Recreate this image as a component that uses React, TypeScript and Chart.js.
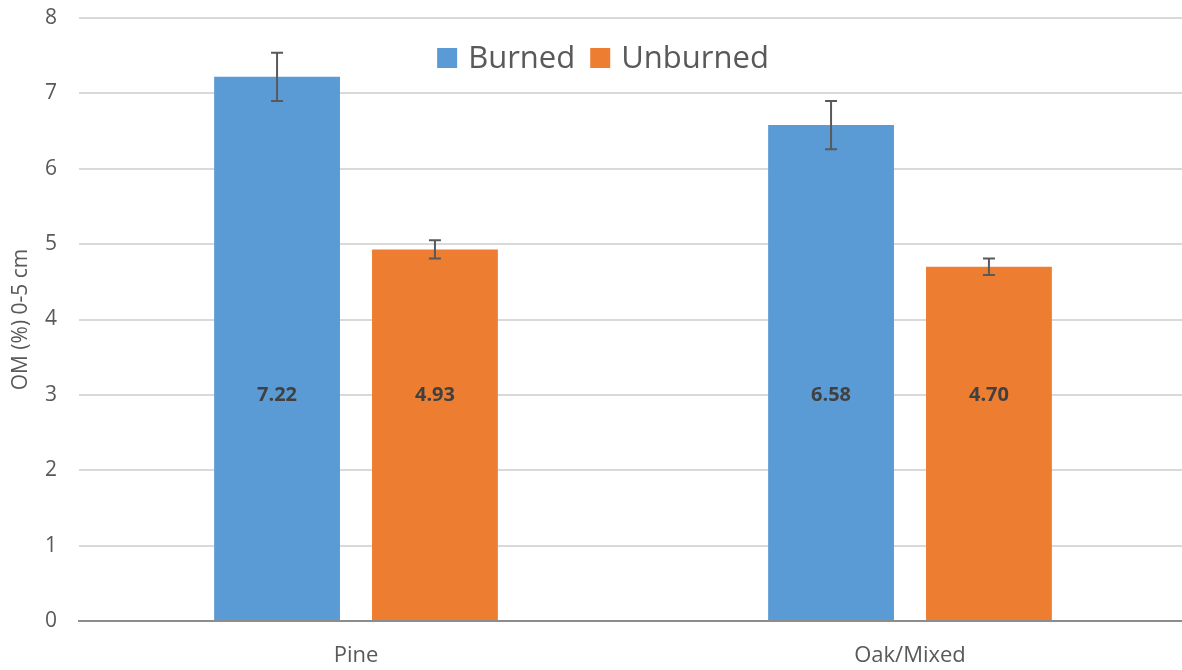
import React, { useEffect, useRef } from "react";
import { Chart, registerables } from "chart.js";

Chart.register(...registerables);

const categories = ["Pine", "Oak/Mixed"];
const seriesNames = ["Burned", "Unburned"];
const burnedValues = [7.22, 6.58];
const unburnedValues = [4.93, 4.7];
const burnedErrors = [0.32, 0.32];
const unburnedErrors = [0.12, 0.11];
const yTicks = [0, 1, 2, 3, 4, 5, 6, 7, 8];
const labelLevel = 3;

const BLUE = "#5B9BD5";
const ORANGE = "#ED7D31";
const FONT = "'Open Sans', 'Noto Sans', sans-serif";

const errorBarPlugin = {
  id: "errorBars",
  afterDatasetsDraw(chart: any) {
    const ctx = chart.ctx;
    const y = chart.scales.y;
    const errs = [burnedErrors, unburnedErrors];
    ctx.save();
    ctx.strokeStyle = "#595959";
    ctx.lineWidth = 2;
    chart.data.datasets.forEach((ds: any, di: number) => {
      const meta = chart.getDatasetMeta(di);
      meta.data.forEach((bar: any, i: number) => {
        const v = ds.data[i];
        const e = errs[di][i];
        const x = bar.x;
        const yt = y.getPixelForValue(v + e);
        const yb = y.getPixelForValue(v - e);
        ctx.beginPath();
        ctx.moveTo(x, yt);
        ctx.lineTo(x, yb);
        ctx.moveTo(x - 6, yt);
        ctx.lineTo(x + 6, yt);
        ctx.moveTo(x - 6, yb);
        ctx.lineTo(x + 6, yb);
        ctx.stroke();
      });
    });
    ctx.restore();
  },
};

const dataLabelPlugin = {
  id: "dataLabels",
  afterDatasetsDraw(chart: any) {
    const ctx = chart.ctx;
    const y = chart.scales.y;
    ctx.save();
    ctx.fillStyle = "#404040";
    ctx.font = `bold 20px ${FONT}`;
    ctx.textAlign = "center";
    ctx.textBaseline = "middle";
    chart.data.datasets.forEach((ds: any, di: number) => {
      const meta = chart.getDatasetMeta(di);
      meta.data.forEach((bar: any, i: number) => {
        ctx.fillText(ds.data[i].toFixed(2), bar.x, y.getPixelForValue(labelLevel));
      });
    });
    ctx.restore();
  },
};

const legendPlugin = {
  id: "customLegend",
  afterDraw(chart: any) {
    const ctx = chart.ctx;
    ctx.save();
    ctx.font = `31px ${FONT}`;
    ctx.textBaseline = "middle";
    const box = 20;
    const gapText = 11;
    const gapItem = 15;
    const colors = [BLUE, ORANGE];
    const widths = seriesNames.map((n) => ctx.measureText(n).width);
    const total = widths.reduce((a: number, w: number) => a + box + gapText + w, 0) + gapItem;
    let x = 603 - total / 2;
    const yc = 58;
    seriesNames.forEach((n, i) => {
      ctx.fillStyle = colors[i];
      ctx.fillRect(x, yc - box / 2, box, box);
      x += box + gapText;
      ctx.fillStyle = "#595959";
      ctx.textAlign = "left";
      ctx.fillText(n, x, yc + 1);
      x += widths[i] + gapItem;
    });
    ctx.restore();
  },
};

export default function App() {
  const ref = useRef<HTMLCanvasElement | null>(null);
  useEffect(() => {
    document.body.style.margin = "0";
    const chart = new Chart(ref.current as HTMLCanvasElement, {
      type: "bar",
      data: {
        labels: categories,
        datasets: [
          {
            label: seriesNames[0],
            data: burnedValues,
            backgroundColor: BLUE,
            barPercentage: 0.797,
            categoryPercentage: 0.57,
          },
          {
            label: seriesNames[1],
            data: unburnedValues,
            backgroundColor: ORANGE,
            barPercentage: 0.797,
            categoryPercentage: 0.57,
          },
        ],
      },
      options: {
        responsive: false,
        animation: false,
        layout: { padding: { top: 18, right: 13, left: 0, bottom: 0 } },
        plugins: {
          legend: { display: false },
          tooltip: { enabled: false },
        },
        scales: {
          x: {
            grid: { display: false, drawTicks: false },
            border: { display: true, color: "#8c8c8c", width: 2 },
            ticks: {
              color: "#595959",
              font: { family: FONT, size: 22 },
              padding: 22,
            },
            afterFit(scale: any) {
              scale.height = 49;
              scale.paddingLeft = 0;
              scale.paddingRight = 0;
            },
          },
          y: {
            min: 0,
            max: 8,
            afterBuildTicks(scale: any) {
              scale.ticks = yTicks.map((v) => ({ value: v }));
            },
            grid: { color: "#d9d9d9", lineWidth: 2, drawTicks: false },
            border: { display: false },
            ticks: {
              color: "#595959",
              font: { family: FONT, size: 21 },
              padding: 22,
            },
            title: {
              display: true,
              text: "OM (%) 0-5 cm",
              color: "#595959",
              font: { family: FONT, size: 21 },
              padding: { top: 8, bottom: 0 },
            },
            afterFit(scale: any) {
              scale.width = 79;
              scale.paddingTop = 0;
              scale.paddingBottom = 0;
            },
          },
        },
      },
      plugins: [errorBarPlugin, dataLabelPlugin, legendPlugin],
    } as any);
    return () => chart.destroy();
  }, []);
  return (
    <div style={{ position: "absolute", left: 0, top: 0, width: 1182, height: 670, overflow: "hidden", background: "#fff" }}>
      <canvas ref={ref} width={1200} height={670} style={{ width: 1200, height: 670, display: "block" }} />
    </div>
  );
}
